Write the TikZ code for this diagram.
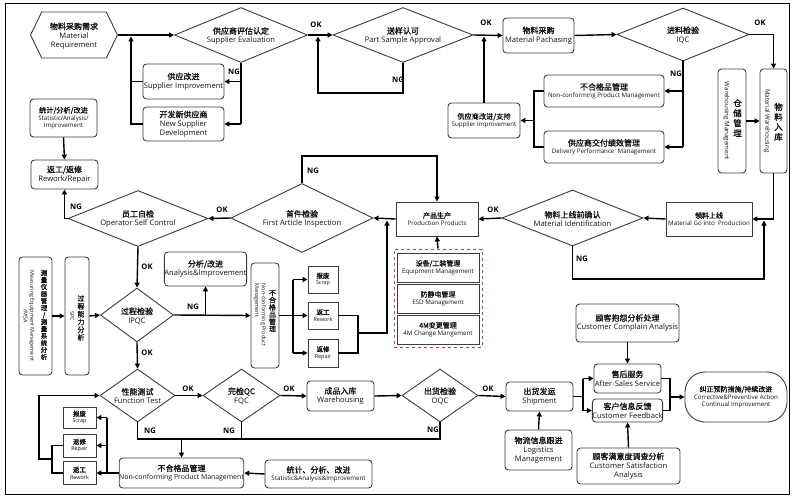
\documentclass[tikz,border=0pt]{standalone}
\usepackage{fontspec}
\setmainfont{Open Sans}
\newfontfamily\cjk[FakeBold=1.4]{Noto Sans CJK SC}
\usetikzlibrary{arrows.meta,shapes.geometric,shapes.symbols}
\definecolor{bd}{RGB}{60,60,60}
\definecolor{mag}{RGB}{190,50,110}
\definecolor{tx}{RGB}{20,20,20}
\newcommand\zA{\cjk\fontsize{8}{9.5}\selectfont}
\newcommand\zB{\cjk\fontsize{7.2}{8.5}\selectfont}
\newcommand\zC{\cjk\fontsize{7}{8.5}\selectfont}
\newcommand\zD{\cjk\fontsize{6.5}{8}\selectfont}
\newcommand\eA{\normalfont\fontsize{7.6}{9}\selectfont}
\newcommand\eAs{\normalfont\fontsize{6.9}{8.5}\selectfont}
\newcommand\eB{\normalfont\fontsize{6.2}{7.4}\selectfont}
\newcommand\eD{\normalfont\fontsize{5.4}{6.8}\selectfont}
\begin{document}
\begin{tikzpicture}[x=1pt,y=-1pt,
  wh/.style 2 args={minimum width=#1pt, minimum height=#2pt},
  box/.style={draw=bd, line width=0.9pt, rounded corners=3.5pt, inner sep=0pt, align=center, text=tx, font=\eA},
  sbox/.style={draw=bd, line width=0.9pt, inner sep=0pt, align=center, text=tx, font=\eA},
  dia/.style={diamond, draw=bd, line width=0.9pt, inner sep=0pt},
  txt/.style={inner sep=0pt, align=center, text=tx, font=\eA},
  fB/.style={font=\eB},
  fD/.style={font=\eD},
  vz/.style={inner sep=0pt, align=center, text=tx},
  ven/.style={inner sep=0pt, align=center, text=tx, rotate=-90},
  conn/.style={line width=1.4pt, black},
  arr/.style={conn, -{Triangle[length=5pt,width=5pt]}},
  lbl/.style={inner sep=0pt, font=\normalfont\bfseries\fontsize{7.6}{9}\selectfont}]
\useasboundingbox (0,0) rectangle (800,500);
\draw[line width=1pt] (5,4) rectangle (789,494);

% ---------- top row ----------
\node[signal, signal to=west and east, signal pointer angle=128, draw=bd, line width=0.9pt, inner sep=0pt, wh={87}{46}] (mr) at (74,35) {};
\node[txt] (mr-t) at (74,36) {\zA 物料采购需求\\Material\\Requirement};
\node[dia, wh={133}{55}] (se) at (241,35) {};
\node[txt] (se-t) at (241,36) {\zA 供应商评估认定\\Supplier Evaluation};
\node[box, wh={81}{35}] (si) at (183.5,81.5) {\zA 供应改进\\Supplier Improvement};
\node[box, wh={81}{34}] (nsd) at (183.5,124) {\zA 开发新供应商\\New Supplier\\Development};
\node[dia, wh={140}{55}] (psa) at (403,35) {};
\node[txt] (psa-t) at (403,36) {\zA 送样认可\\Part Sample Approval};
\node[box, wh={71}{35}] (mp) at (538.5,35.5) {\zA 物料采购\\Material Pachasing};
\node[box, fB, wh={72}{35}] (ss) at (484,120.5) {\zB 供应商改进/支持\\Supplier Improvement};
\node[dia, wh={132}{53}] (iqc) at (683,34.5) {};
\node[txt] (iqc-t) at (683,35) {\zA 进料检验\\IQC};
\node[box, fB, wh={120}{32}] (nc1) at (604,91) {\zA 不合格品管理\\Non-conforming Product Management};
\node[box, fB, wh={120}{32}] (dpm) at (604,147) {\zA 供应商交付绩效管理\\Delivery Performance\ \ Management};
\node[box, wh={28}{104}] (wm) at (732,121) {};
\node[vz, font=\cjk\fontsize{8.5}{10}\selectfont] (wm-z) at (737.5,118) {仓\\储\\管\\理};
\node[ven, font=\eB] (wm-e) at (726.5,121) {Warehousing Management};
\node[box, wh={27}{104}] (mw) at (773.5,121) {};
\node[vz, font=\cjk\fontsize{8.5}{10}\selectfont] (mw-z) at (778.5,122) {物\\料\\入\\库};
\node[ven, font=\eB] (mw-e) at (767,121) {Material Warehousing};

\draw[arr] (mr.east) -- (se.west);
\draw[conn] (se.south) -- (se.south |- nsd.east);
\draw[arr] (se.south |- si.east) -- (si.east);
\draw[arr] (se.south |- nsd.east) -- (nsd.east);
\coordinate (j1) at (131,36.5);
\draw[conn] (si.west) -- (si.west -| j1);
\draw[arr] (nsd.west) -| (j1);
\node[lbl] (ng1) at (234,72) {NG};
\draw[arr] (se.east) -- (psa.west);
\node[lbl] (ok1) at (316,25) {OK};
\coordinate (l2) at (318,93);
\coordinate (c2) at (318,36.5);
\draw[arr] (psa.south) |- (l2) -- (c2);
\node[lbl] (ng2) at (398,80) {NG};
\draw[arr] (psa.east) -- (mp.west);
\node[lbl] (ok2) at (486,23) {OK};
\coordinate (c3) at (484,36.5);
\draw[arr] (ss.north) -- (c3);
\draw[arr] (mp.east) -- (iqc.west);
\draw[conn] (iqc.south) -- (iqc.south |- dpm.east);
\draw[arr] (iqc.south |- nc1.east) -- (nc1.east);
\draw[arr] (iqc.south |- dpm.east) -- (dpm.east);
\node[lbl] (ng3) at (676,74) {NG};
\coordinate (j4) at (534,120.5);
\draw[conn] (nc1.west) -| (j4);
\draw[conn] (dpm.west) -| (j4);
\draw[arr] (j4) -- (ss.east);
\draw[arr] (wm.east) -- (mw.west);
\draw[arr] (iqc.east) -| (mw.north);
\node[lbl] (ok3) at (760,23) {OK};

% ---------- second row ----------
\node[sbox, fB, wh={86}{34}] (mgp) at (709,219) {\zC 领料上线\\Material Go into\ \ Production};
\draw[arr] (mw.south) |- (mgp.east);
\node[dia, wh={141}{56}] (mid) at (572.5,218) {};
\node[txt] (mid-t) at (572.5,219) {\zA 物料上线前确认\\Material Identification};
\draw[arr] (mgp.west) -- (mid.east);
\coordinate (l5) at (764,279);
\coordinate (c5) at (764,220.5);
\draw[arr] (mid.south) |- (l5) -- (c5);
\node[lbl] (ng4) at (582,259) {NG};
\node[sbox, fB, wh={82}{34}] (pp) at (437,219) {\zC 产品生产\\Production Products};
\draw[arr] (mid.west) -- (pp.east);
\node[lbl] (ok4) at (493,210) {OK};
\node[dia, wh={142}{69}] (fai) at (302,218) {};
\node[txt] (fai-t) at (302,219) {\zA 首件检验\\First Article Inspection};
\draw[arr] (pp.west) -- (fai.east);
\coordinate (l6) at (437,156);
\draw[arr] (fai.north) |- (l6) -- (pp.north);
\node[lbl] (ng5) at (313,171) {NG};
\node[dia, wh={140}{56}] (osc) at (138,218.5) {};
\node[txt] (osc-t) at (138,219) {\zA 员工自检\\Operator Self Control};
\draw[arr] (fai.west) -- (osc.east);
\node[lbl] (ok5) at (222,210) {OK};
\node[box, wh={67}{29}] (rr) at (64.5,174.5) {\zA 返工/返修\\Rework/Repair};
\node[box, fB, wh={67}{38}] (sai) at (63.5,118) {\zB 统计/分析/改进\\Statistic/Analysis/\\Improvement};
\draw[arr] (sai.south) -- (rr.north);
\draw[arr] (osc.west) -| (rr.south);
\node[lbl] (ng6) at (76,207) {NG};

% ---------- IPQC row ----------
\node[dia, wh={73}{54}] (ipqc) at (137,315) {};
\node[txt] (ipqc-t) at (137,316) {\zA 过程检验\\IPQC};
\draw[arr] (osc.south) -- (ipqc.north);
\node[lbl] (ok6) at (147,267) {OK};
\node[box, wh={81}{34}] (ai) at (205.5,269) {\zA 分析/改进\\Analysis\&Improvement};
\node[box, wh={28}{105}] (nc2) at (265,315.5) {};
\node[vz, font=\cjk\fontsize{7}{7.2}\selectfont] (nc2-z) at (272.5,311) {不\\合\\格\\品\\管\\理};
\node[ven, font=\eD, align=left] (nc2-e) at (260,315) {Non-conforming Product\\Management};
\draw[arr] (ipqc.east) -- (nc2.west);
\coordinate (j8) at (205.5,315);
\draw[arr] (j8) -- (ai.south);
\node[lbl] (ng7) at (193,307) {NG};
\node[sbox, fD, wh={30}{27}] (sc1) at (323,279.5) {\zD 报废\\Scrap};
\node[sbox, fD, wh={30}{27}] (rw1) at (323,315.5) {\zD 返工\\Rework};
\node[sbox, fD, wh={30}{28}] (rp1) at (323,353) {\zD 返修\\Repair};
\coordinate (j9) at (293,315.5);
\draw[arr] (nc2.east) -- (rw1.west);
\draw[conn] (j9 |- sc1.west) -- (j9 |- rp1.west);
\draw[arr] (j9 |- sc1.west) -- (sc1.west);
\draw[arr] (j9 |- rp1.west) -- (rp1.west);
\coordinate (j10) at (358,333);
\coordinate (c10) at (387,333);
\coordinate (c11) at (387,220.5);
\draw[conn] (rw1.east) -| (j10);
\draw[conn] (rp1.east) -| (j10);
\draw[arr] (j10) -- (c10) -- (c11);
\node[draw=mag, dashed, line width=1pt, wh={88}{98}, inner sep=0pt] (dsh) at (438,298) {};
\node[sbox, fB, wh={82}{29}] (em) at (438,267.5) {\zC 设备/工装管理\\Equipment Management};
\node[sbox, fB, wh={82}{29}] (esd) at (438,298.5) {\zC 防静电管理\\ESD Management};
\node[sbox, fB, wh={82}{29}] (m4) at (438,329.5) {\zC 4M变更管理\\4M Change Mangement};
\draw[arr] (dsh.north) -- (pp.south);
\node[box, wh={33}{118}] (msa) at (35.5,316) {};
\node[vz, font=\cjk\fontsize{6.5}{7}\selectfont] (msa-z) at (44,315) {测\\量\\仪\\器\\管\\理\\/\\测\\量\\系\\统\\分\\析};
\node[ven, font=\eD] (msa-e) at (29,316) {Measuring Equipment Management\\/MSA};
\node[box, wh={24}{118}] (spc) at (77,316) {};
\node[vz, font=\cjk\fontsize{7}{7.8}\selectfont] (spc-z) at (81,318) {过\\程\\能\\力\\分\\析};
\node[ven, font=\eD] (spc-e) at (72,316) {SPC};
\draw[arr] (msa.east) -- (spc.west);
\draw[arr] (spc.east) -- (ipqc.west);

% ---------- bottom row ----------
\node[dia, wh={75}{53}] (ft) at (137.5,395.5) {};
\node[txt] (ft-t) at (137.5,396) {\zA 性能测试\\Function Test};
\draw[arr] (ipqc.south) -- (ft.north);
\node[lbl] (ok7) at (147,353) {OK};
\node[dia, wh={77}{53}] (fqc) at (241.5,395.5) {};
\node[txt] (fqc-t) at (241.5,396) {\zA 完检QC\\FQC};
\draw[arr] (ft.east) -- (fqc.west);
\node[lbl] (ok8) at (188,389) {OK};
\node[box, wh={67}{30}] (wh) at (340.5,396) {\zA 成品入库\\Warehousing};
\draw[arr] (fqc.east) -- (wh.west);
\node[lbl] (ok9) at (289,389) {OK};
\node[dia, wh={76}{53}] (oqc) at (440,395.5) {};
\node[txt] (oqc-t) at (440,396) {\zA 出货检验\\OQC};
\draw[arr] (wh.east) -- (oqc.west);
\node[box, wh={67}{29}] (sh) at (539.5,396.5) {\zA 出货发运\\Shipment};
\draw[arr] (oqc.east) -- (sh.west);
\node[lbl] (ok10) at (488,389) {OK};
\node[box, wh={67}{40}] (lg) at (538.5,450) {\zA 物流信息跟进\\Logistics\\Management};
\draw[arr] (lg.north) -- (sh.south);
\node[box, wh={67}{29}] (as) at (627.5,378.5) {\zA 售后服务\\After-Sales Service};
\node[box, wh={67}{23}] (cf) at (627.5,410.5) {\zA 客户信息反馈\\Customer Feedback};
\coordinate (j12) at (583,396.5);
\draw[conn] (sh.east) -- (j12);
\draw[conn] (j12 |- as.west) -- (j12 |- cf.west);
\draw[arr] (j12 |- as.west) -- (as.west);
\draw[arr] (j12 |- cf.west) -- (cf.west);
\node[box, wh={103}{38}] (cca) at (627.5,323) {\zA 顾客抱怨分析处理\\Customer Complain Analysis};
\draw[arr] (cca.south) -- (as.north);
\node[box, wh={103}{36}] (csa) at (628.5,466) {\zA 顾客满意度调查分析\\Customer Satisfaction\\Analysis};
\draw[arr] (csa.north) -- (cf.south);
\node[box, fB, rounded corners=20pt, wh={102}{50}] (cpa) at (736,397) {\zC 纠正预防措施/持续改进\\Corrective\&Preventive Action\\Continual Improvement};
\coordinate (j13) at (670,397);
\draw[conn] (as.east) -| (j13);
\draw[conn] (cf.east) -| (j13);
\draw[arr] (j13) -- (cpa.west);

\coordinate (b1) at (137.5,439);
\coordinate (b2) at (440,439);
\draw[conn] (ft.south) -- (b1) -- (b2) -- (oqc.south);
\draw[conn] (fqc.south) -- (fqc.south |- b1);
\node[lbl] (ng8) at (150,431) {NG};
\node[lbl] (ng9) at (229,431) {NG};
\node[lbl] (ng10) at (433,430) {NG};
\node[box, font=\eAs, wh={123}{30}] (nc3) at (181.5,473) {\zA 不合格品管理\\Non-conforming Product Management};
\draw[arr] (nc3.north |- b1) -- (nc3.north);
\node[box, fB, wh={107}{28}] (sai2) at (318.5,474) {\zA 统计、分析、改进\\Statistic\&Analysis\&Improvement};
\draw[arr] (sai2.west) -- (nc3.east);
\node[sbox, fD, wh={33}{21}] (sc2) at (79.5,417.5) {\zD 报废\\Scrap};
\node[sbox, fD, wh={33}{23}] (rp2) at (79.5,445.5) {\zD 返修\\Repair};
\node[sbox, fD, wh={33}{23}] (rw2) at (79.5,473) {\zD 返工\\Rework};
\coordinate (j14) at (107,473);
\draw[arr] (nc3.west) -- (rw2.east);
\draw[conn] (j14) -- (j14 |- sc2.east);
\draw[arr] (j14 |- sc2.east) -- (sc2.east);
\draw[arr] (j14 |- rp2.east) -- (rp2.east);
\coordinate (j15) at (52,459);
\coordinate (j16) at (39,459);
\draw[conn] (rp2.west) -| (j15);
\draw[conn] (rw2.west) -| (j15);
\draw[arr] (j15) -- (j16) |- (ft.west);
\end{tikzpicture}
\end{document}
